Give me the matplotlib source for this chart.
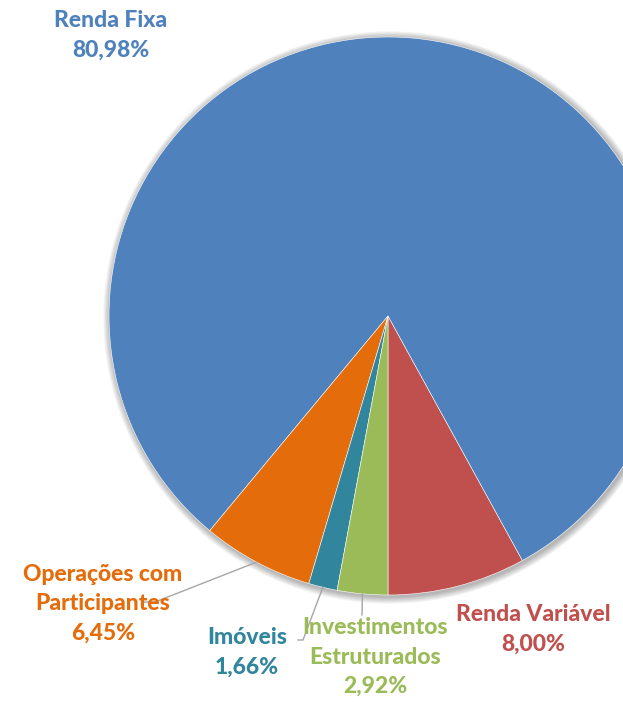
import matplotlib
matplotlib.use('Agg')
import matplotlib.pyplot as plt
import numpy as np
from matplotlib.patches import Circle

# data (percentages, in drawing order starting from 6 o'clock, counterclockwise)
segments = ['Renda Variável', 'Renda Fixa', 'Operações com\nParticipantes', 'Imóveis', 'Investimentos\nEstruturados']
values = [8.00, 80.98, 6.45, 1.66, 2.92]
pct_labels = ['8,00%', '80,98%', '6,45%', '1,66%', '2,92%']
colors = ['#C0504D', '#4F81BD', '#E46C0A', '#31859C', '#9BBB59']

W, H = 623, 702
CX, CY, R = 388, 386, 279  # pie centre / radius in pixels (y up)

# label block centres (image pixel coords, y down)
label_pos = [(533, 629), (111, 35), (103, 604), (247, 652), (375, 657)]
# leader line end points (image coords)
leader_ends = [None, None, [(155, 602), (143, 602)], [(303, 640), (298, 640)], [(362, 615)]]

plt.rcParams['font.family'] = ['Lato', 'DejaVu Sans']

fig = plt.figure(figsize=(W / 100, H / 100), dpi=100)
ax = fig.add_axes([0, 0, 1, 1])

# soft shadow behind the pie
for i in range(8, 0, -1):
    ax.add_patch(Circle((CX + 1.5, CY - 1.5), R + i * 0.9, color='#000000', alpha=0.04, lw=0, zorder=0))

wedges, _ = ax.pie(values, colors=colors, startangle=-90, counterclock=True,
                   center=(CX, CY), radius=R, frame=True,
                   wedgeprops=dict(edgecolor='white', linewidth=0.4))
for w in wedges:
    w.set_zorder(2)

for i, (name, pct) in enumerate(zip(segments, pct_labels)):
    x, y = label_pos[i]
    ax.text(x, H - y, name + '\n' + pct, ha='center', va='center', color=colors[i],
            fontsize=16.5, fontweight='black', linespacing=1.5, zorder=5)
    if leader_ends[i]:
        w = wedges[i]
        mid = np.deg2rad((w.theta1 + w.theta2) / 2)
        xs = [CX + R * np.cos(mid)] + [p[0] for p in leader_ends[i]]
        ys = [CY + R * np.sin(mid)] + [H - p[1] for p in leader_ends[i]]
        ax.plot(xs, ys, color='#A6A6A6', lw=1.0, zorder=4)

ax.set_xlim(0, W)
ax.set_ylim(0, H)
ax.set_aspect('equal')
ax.axis('off')

plt.savefig('out.png', dpi=100)
plt.close()
